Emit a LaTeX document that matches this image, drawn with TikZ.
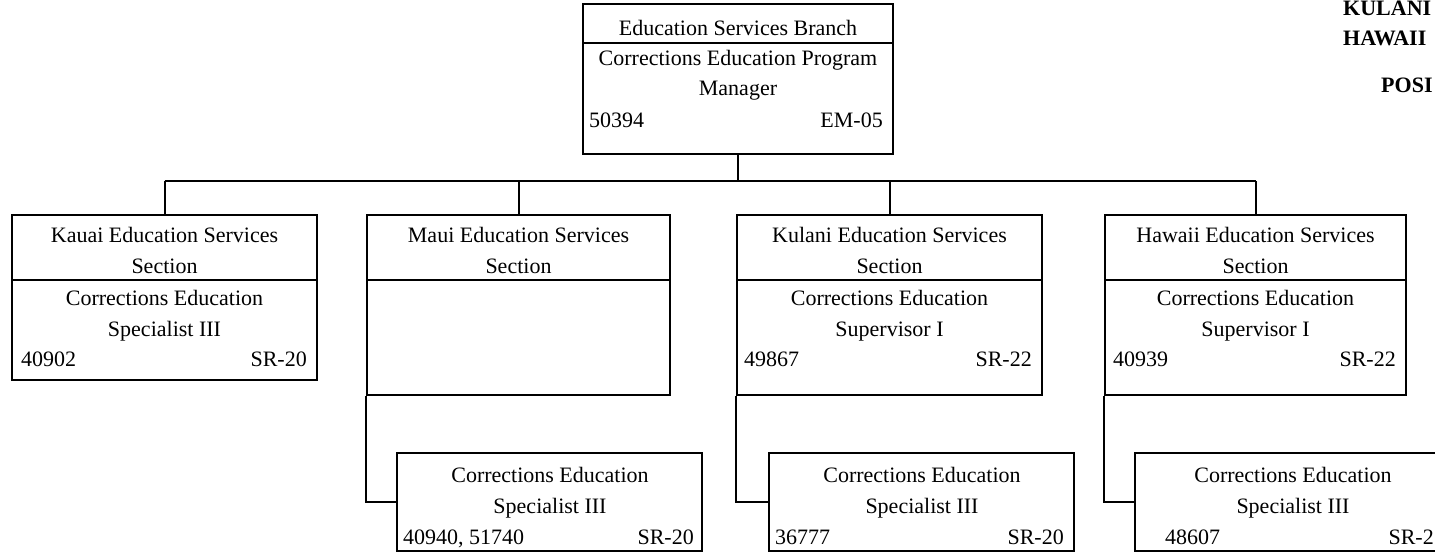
\documentclass[tikz,border=0pt]{standalone}
\usepackage{fontspec}
\setmainfont{Liberation Serif}
\begin{document}
\begin{tikzpicture}[x=1pt,y=-1pt,
  box/.style={draw, line width=2pt, rectangle, inner sep=0pt},
  conn/.style={line width=2pt},
  lbl/.style={inner sep=0pt, anchor=base, font=\fontsize{22}{26}\selectfont},
  lft/.style={lbl, anchor=base west},
  rgt/.style={lbl, anchor=base east},
  hdr/.style={inner sep=0pt, anchor=base west, font=\fontsize{22}{26}\selectfont\bfseries}]
\useasboundingbox (0,0) rectangle (1435,554);
\clip (0,0) rectangle (1435,554);

% boxes
\node[box, minimum width=310pt, minimum height=150pt] (top) at (738,79) {};
\node[box, minimum width=305pt, minimum height=165pt] (kauai) at (164.5,297.5) {};
\node[box, minimum width=303pt, minimum height=180pt] (maui) at (518.5,305) {};
\node[box, minimum width=305pt, minimum height=180pt] (kulani) at (889.5,305) {};
\node[box, minimum width=301pt, minimum height=180pt] (hawaii) at (1255.5,305) {};
\node[box, minimum width=305pt, minimum height=98pt] (mauisub) at (549.5,502) {};
\node[box, minimum width=305pt, minimum height=98pt] (kulanisub) at (921.5,502) {};
\node[box, minimum width=320pt, minimum height=98pt] (hawaiisub) at (1295,502) {};

% dividers
\draw[conn] (583,43) -- (893,43);
\draw[conn] (12,280) -- (317,280);
\draw[conn] (367,280) -- (670,280);
\draw[conn] (737,280) -- (1042,280);
\draw[conn] (1105,280) -- (1406,280);

% connectors
\coordinate (bus) at (738,181);
\draw[conn] (top.south) -- (top.south |- bus);
\draw[conn] (kauai.north |- bus) -- (hawaii.north |- bus);
\foreach \n in {kauai,maui,kulani,hawaii} \draw[conn] (\n.north |- bus) -- (\n.north);
\draw[conn] (maui.south west) |- (mauisub.west);
\draw[conn] (kulani.south west) |- (kulanisub.west);
\draw[conn] (hawaii.south west) |- (hawaiisub.west);

% top box text
\node[lbl] (t1) at (738,35) {Education Services Branch};
\node[lbl] (t2) at (738,65) {Corrections Education Program};
\node[lbl] (t3) at (738,95) {Manager};
\node[lft] (t4) at (589,127) {50394};
\node[rgt] (t5) at (883,127) {EM-05};

% Kauai
\node[lbl] (k1) at (164.5,242) {Kauai Education Services};
\node[lbl] (k2) at (164.5,273) {Section};
\node[lbl] (k3) at (164.5,305) {Corrections Education};
\node[lbl] (k4) at (164.5,336) {Specialist III};
\node[lft] (k5) at (21,366) {40902};
\node[rgt] (k6) at (307,366) {SR-20};

% Maui
\node[lbl] (m1) at (518.5,242) {Maui Education Services};
\node[lbl] (m2) at (518.5,273) {Section};

% Kulani
\node[lbl] (u1) at (889.5,242) {Kulani Education Services};
\node[lbl] (u2) at (889.5,273) {Section};
\node[lbl] (u3) at (889.5,305) {Corrections Education};
\node[lbl] (u4) at (889.5,336) {Supervisor I};
\node[lft] (u5) at (744,366) {49867};
\node[rgt] (u6) at (1032,366) {SR-22};

% Hawaii
\node[lbl] (h1) at (1255.5,242) {Hawaii Education Services};
\node[lbl] (h2) at (1255.5,273) {Section};
\node[lbl] (h3) at (1255.5,305) {Corrections Education};
\node[lbl] (h4) at (1255.5,336) {Supervisor I};
\node[lft] (h5) at (1113,366) {40939};
\node[rgt] (h6) at (1396,366) {SR-22};

% sub boxes
\node[lbl] (ms1) at (550,482) {Corrections Education};
\node[lbl] (ms2) at (550,513) {Specialist III};
\node[lft] (ms3) at (403,544) {40940, 51740};
\node[rgt] (ms4) at (694,544) {SR-20};

\node[lbl] (us1) at (922,482) {Corrections Education};
\node[lbl] (us2) at (922,513) {Specialist III};
\node[lft] (us3) at (775,544) {36777};
\node[rgt] (us4) at (1064,544) {SR-20};

\node[lbl] (hs1) at (1293,482) {Corrections Education};
\node[lbl] (hs2) at (1293,513) {Specialist III};
\node[lft] (hs3) at (1165,544) {48607};
\node[rgt] (hs4) at (1434,544) {SR-2};

% header fragments
\node[hdr] (r1) at (1343,15) {KULANI};
\node[hdr] (r2) at (1343,45) {HAWAII};
\node[hdr] (r3) at (1381,92) {POSI};
\end{tikzpicture}
\end{document}
